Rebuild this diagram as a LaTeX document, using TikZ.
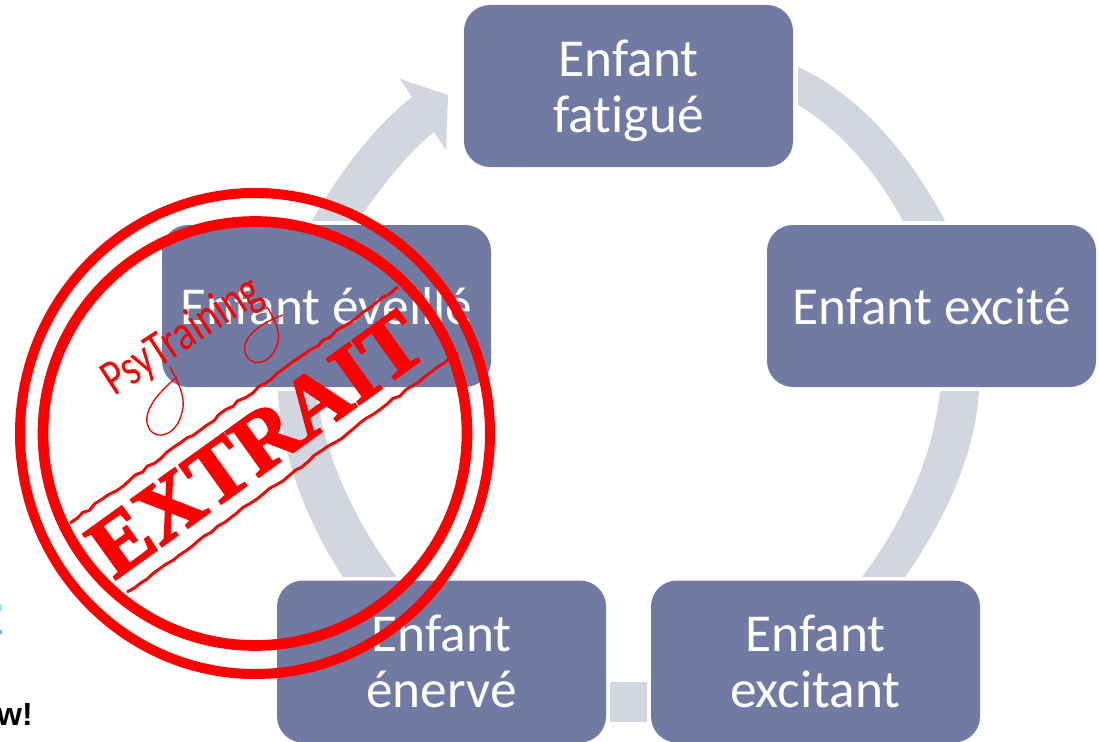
\documentclass[tikz,border=0pt]{standalone}
\usepackage{fontspec}
\setmainfont{Carlito}[Ligatures=NoCommon]
\newfontfamily\stampfont{Liberation Serif}[FakeBold=2.5]
\newfontfamily\scrapfont{Liberation Sans}
\usetikzlibrary{decorations.pathmorphing}

\begin{document}
\begin{tikzpicture}
	[
		x=0.75pt,
		y=-0.75pt,
		% One style for the boxes of the cycle.
		stagebox/.style={fill=boxblue, text=white, rounded corners=19.5pt, minimum width=246.75pt, minimum height=121.5pt, inner sep=0pt, align=center, font=\fontsize{40}{42}\selectfont},
		% And one for the pale arrows between them.
		cyclearrow/.style={fill=arrowgrey, draw=none},
		stampring/.style={draw=stampred, line width=#1},
		stampline/.style={draw=stampred, line width=2.2pt, decorate, decoration={random steps, segment length=6pt, amplitude=1pt}}
	]
		\definecolor{boxblue}{HTML}{717AA2}
		\definecolor{arrowgrey}{HTML}{D3D6E1}
		\definecolor{stampred}{HTML}{FF0000}
		\useasboundingbox (0,0) rectangle (1099,742);

		% Left-over bits of the page behind
		\fill[blue!35!cyan!35] (0,604) rectangle (2,611);
		\fill[blue!50!cyan!60] (0,630) rectangle (2,634);
		\node[anchor=base east, inner sep=0pt, font=\scrapfont\bfseries\fontsize{24}{24}\selectfont] (scrap) at (33,725) {w!};

		% Draw arrows
		\path[cyclearrow] (798,67) .. controls (860,95) and (910,155) .. (945,221) -- (903,221) .. controls (875,170) and (840,130) .. (798,105) -- cycle;
		\path[cyclearrow] (979,391) .. controls (975,455) and (945,520) .. (905,577) -- (862,577) .. controls (905,520) and (933,455) .. (940,391) -- cycle;
		\path[cyclearrow] (610,682) rectangle (647,722);
		\path[cyclearrow] (278,391) .. controls (280,450) and (305,520) .. (343,577) -- (397,577) .. controls (360,530) and (325,460) .. (316,391) -- cycle;
		\path[cyclearrow] (312,221) .. controls (335,180) and (370,130) .. (412,97) -- (400,79) -- (448,95) -- (446,150) -- (434,132) .. controls (405,155) and (380,190) .. (357,221) -- cycle;

		% Draw boxes
		\node[stagebox] (fatigue) at (628.5,86) {\rule{0pt}{34.5pt}Enfant\\fatigué};
		\node[stagebox] (excite) at (931.5,306) {Enfant excité};
		\node[stagebox] (excitant) at (815.5,661.5) {Enfant\\excitant};
		\node[stagebox] (enerve) at (441.5,661.5) {Enfant\\énervé};
		\node[stagebox] (eveille) at (326.5,306) {Enfant éveillé};

		% Draw stamp
		\coordinate (stamp) at (255,433.5);
		\draw[stampring=7.5pt] (stamp) ellipse[x radius=235, y radius=240.5];
		\draw[stampring=8pt] (stamp) circle[radius=212];
		\coordinate (bandA) at (70,523);
		\coordinate (bandB) at (398,287);
		\coordinate (bandC) at (127,592);
		\coordinate (bandD) at (458,353);
		\draw[stampline] (bandA) -- (bandB);
		\draw[stampline] (bandC) -- (bandD);
		\node[rotate=35.7, text=stampred, inner sep=0pt, font=\stampfont\bfseries\fontsize{64}{64}\selectfont] (extrait) at (256,444) {EXTRAIT};
		\node[rotate=33, text=stampred, inner sep=0pt, xscale=0.78, font=\fontsize{38}{38}\selectfont] (psy) at (183,337) {PsyTraining};
		\draw[stampred, line width=1pt] (170,367) .. controls (180,385) and (186,400) .. (182,412) .. controls (178,432) and (160,442) .. (150,430) .. controls (140,415) and (155,395) .. (177,377);
		\draw[stampred, line width=1pt] (267,307) .. controls (275,320) and (282,335) .. (277,345) .. controls (272,362) and (255,368) .. (247,357) .. controls (238,342) and (255,325) .. (283,315);
	\end{tikzpicture}
\end{document}
